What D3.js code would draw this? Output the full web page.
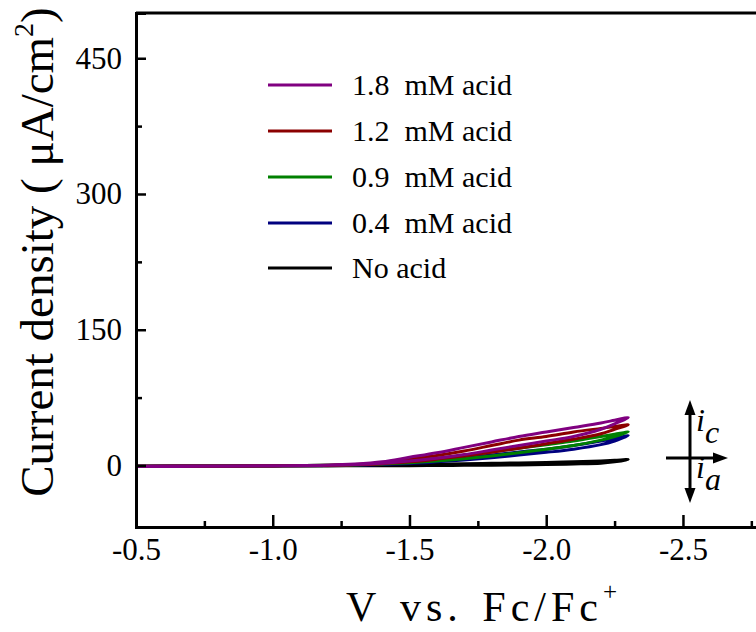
<!DOCTYPE html>
<html>
<head>
<meta charset="utf-8">
<script src="https://cdn.jsdelivr.net/npm/d3@7/dist/d3.min.js"></script>
<style>
  body { margin: 0; background: #fff; }
  svg { display: block; }
  text { font-family: "Liberation Serif", "DejaVu Serif", serif; fill: #000; }
</style>
</head>
<body>
<div id="chart"></div>
<script>
// potential grid (V vs Fc/Fc+), forward scan then return
var volts = [-0.5, -0.75, -1.0, -1.2, -1.3, -1.4, -1.5, -1.6, -1.7, -1.8, -1.9, -2.0, -2.1, -2.2, -2.25, -2.3];

var seriesNames = ["1.8  mM acid", "1.2  mM acid", "0.9  mM acid", "0.4  mM acid", "No acid"];
var seriesColors = ["#800080", "#8b0000", "#008000", "#00007f", "#000000"];

// current density (uA/cm2) on the outgoing branch
var upPurple = [-0.8, -0.6, -0.3, 0.3, 1.5, 4, 9, 14, 20, 26, 32, 37, 42, 47, 50, 53];
var upRed    = [-0.8, -0.6, -0.3, 0.2, 1, 3, 7, 11, 16, 22, 28, 32, 37, 41, 43, 45];
var upGreen  = [-0.8, -0.6, -0.3, 0.2, 0.7, 2, 5, 8, 11, 15, 19, 23, 27, 32, 34.5, 37];
var upBlue   = [-0.8, -0.6, -0.3, 0.1, 0.5, 1.5, 3.5, 6, 8.5, 11.5, 15, 18, 22, 27, 30, 33];
var upBlack  = [-0.8, -0.6, -0.3, 0, 0.3, 0.6, 1, 1.5, 2, 2.4, 2.8, 3.3, 4, 5, 5.7, 6.5];

// current density on the return branch (same potentials)
var downPurple = [-1.2, -0.9, -0.5, 0.2, 1, 2.5, 5, 8, 12, 17, 22, 27, 32, 40, 46, 53];
var downRed    = [-1.2, -0.9, -0.5, 0, 0.7, 2, 4, 7, 10.5, 14.5, 19, 24, 29, 35, 40, 45];
var downGreen  = [-1.2, -0.9, -0.5, 0, 0.5, 1.5, 3, 5, 7.5, 10.5, 14, 18, 22, 28, 32, 37];
var downBlue   = [-1.2, -0.9, -0.5, 0, 0.3, 1, 2.2, 4, 6, 8.5, 11.5, 14.5, 18, 23, 27, 33];
var downBlack  = [-1.2, -0.9, -0.6, -0.5, -0.4, -0.3, -0.3, -0.1, 0.1, 0.3, 0.6, 1, 1.6, 2.5, 4, 6.5];

var upData = [upPurple, upRed, upGreen, upBlue, upBlack];
var downData = [downPurple, downRed, downGreen, downBlue, downBlack];

var xMajorTicks = [-0.5, -1.0, -1.5, -2.0, -2.5];
var xMinorTicks = [-0.75, -1.25, -1.75, -2.25, -2.75];
var yMajorTicks = [0, 150, 300, 450];
var yMinorTicks = [75, 225, 375];

var width = 756, height = 632;
var mLeft = 136, mTop = 13, mBottom = 527, mRight = 765;

var svg = d3.select("#chart").append("svg")
  .attr("width", width).attr("height", height);

var x = d3.scaleLinear().domain([-0.5, -2.8]).range([mLeft, mRight]);
var y = d3.scaleLinear().domain([-68, 500]).range([mBottom, mTop]);

// curves
var line = d3.line()
  .x(function(d) { return x(d[0]); })
  .y(function(d) { return y(d[1]); })
  .curve(d3.curveCatmullRom.alpha(0.5));

var plot = svg.append("g");
for (var s = 4; s >= 0; s--) {
  var pts = [];
  for (var i = 0; i < volts.length; i++) pts.push([volts[i], upData[s][i]]);
  for (var j = volts.length - 2; j >= 0; j--) pts.push([volts[j], downData[s][j]]);
  plot.append("path")
    .attr("d", line(pts))
    .attr("fill", "none")
    .attr("stroke", seriesColors[s])
    .attr("stroke-width", 3)
    .attr("stroke-linejoin", "round");
}

// axes
var fmt = function(d) { return d.toFixed(1); };
svg.append("g").attr("transform", "translate(0," + mBottom + ")")
  .call(d3.axisBottom(x).tickValues(xMajorTicks).tickFormat(fmt).tickSize(-12).tickPadding(11));
svg.append("g").attr("transform", "translate(0," + mBottom + ")")
  .call(d3.axisBottom(x).tickValues(xMinorTicks).tickFormat("").tickSize(-6))
  .select(".domain").remove();

svg.append("g").attr("transform", "translate(" + mLeft + ",0)")
  .call(d3.axisLeft(y).tickValues(yMajorTicks).tickSize(-10).tickPadding(14));
svg.append("g").attr("transform", "translate(" + mLeft + ",0)")
  .call(d3.axisLeft(y).tickValues(yMinorTicks).tickFormat("").tickSize(-6))
  .select(".domain").remove();

svg.selectAll(".domain").attr("stroke", "#000").attr("stroke-width", 3);
svg.selectAll(".tick line").attr("stroke", "#000").attr("stroke-width", 2.5);
svg.selectAll(".tick text")
  .attr("font-family", "Liberation Serif")
  .attr("font-size", 31);

// top frame
svg.append("line")
  .attr("x1", mLeft).attr("x2", mRight).attr("y1", mTop).attr("y2", mTop)
  .attr("stroke", "#000").attr("stroke-width", 3);

// axis titles
var xt = svg.append("text")
  .attr("x", 484).attr("y", 621)
  .attr("text-anchor", "middle")
  .attr("font-size", 42)
  .attr("letter-spacing", 5)
  .attr("word-spacing", 4);
xt.append("tspan").text("V vs. Fc/Fc");
xt.append("tspan").attr("font-size", 25).attr("dy", -21).text("+");

var yt = svg.append("text")
  .attr("transform", "translate(53,252) rotate(-90)")
  .attr("text-anchor", "middle")
  .attr("font-size", 47);
yt.append("tspan").text("Current density ( \u03bcA/cm");
yt.append("tspan").attr("font-size", 28).attr("dy", -20).text("2");
yt.append("tspan").attr("dy", 20).text(")");

// legend
var legendY = [85, 131, 177, 223, 268];
var legend = svg.append("g");
seriesNames.forEach(function(name, k) {
  legend.append("line")
    .attr("x1", 268).attr("x2", 332)
    .attr("y1", legendY[k]).attr("y2", legendY[k])
    .attr("stroke", seriesColors[k]).attr("stroke-width", 3);
  legend.append("text")
    .attr("x", 352).attr("y", legendY[k] + 10)
    .attr("font-size", 30)
    .style("white-space", "pre")
    .text(name);
});

// current direction arrows
var arr = svg.append("g").attr("stroke", "#000").attr("stroke-width", 3);
arr.append("line").attr("x1", 690).attr("x2", 690).attr("y1", 410).attr("y2", 494);
arr.append("line").attr("x1", 666).attr("x2", 718).attr("y1", 458).attr("y2", 458);
svg.append("path").attr("d", "M690,400 L684.5,415 L695.5,415 Z").attr("fill", "#000");
svg.append("path").attr("d", "M690,503 L684.5,488 L695.5,488 Z").attr("fill", "#000");
svg.append("path").attr("d", "M728,458 L713,452.5 L713,463.5 Z").attr("fill", "#000");

var ic = svg.append("text").attr("x", 696).attr("y", 431).attr("font-size", 32).attr("font-style", "italic");
ic.append("tspan").text("i");
ic.append("tspan").attr("dy", 12).text("c");
var ia = svg.append("text").attr("x", 696).attr("y", 478).attr("font-size", 32).attr("font-style", "italic");
ia.append("tspan").text("i");
ia.append("tspan").attr("dy", 12).text("a");
</script>
</body>
</html>
